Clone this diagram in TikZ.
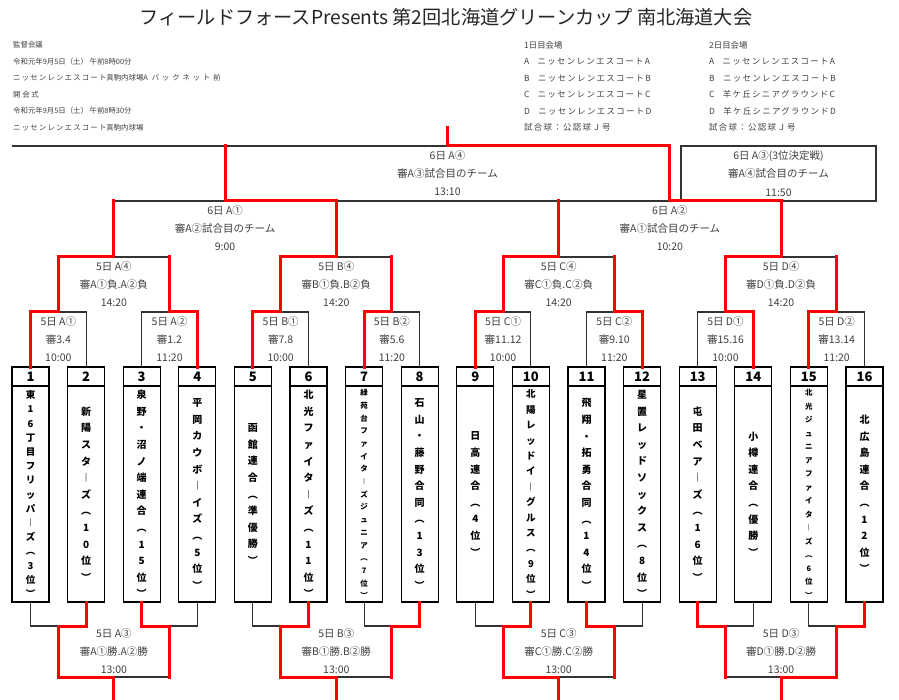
\documentclass[tikz,border=0pt]{standalone}
\usepackage{fontspec}
\setmainfont{Noto Sans CJK JP}
\newfontfamily\kanafont[LetterSpace=16]{Noto Sans CJK JP}
\newfontfamily\kanawidefont[LetterSpace=38]{Noto Sans CJK JP}
\newcommand{\kana}[1]{{\kanafont #1}}
\newcommand{\kanawide}[1]{{\kanawidefont #1}}
\usetikzlibrary{positioning}
\definecolor{winred}{HTML}{FF0000}
\definecolor{linegray}{HTML}{333333}
\definecolor{textgray}{HTML}{404040}

\begin{document}
\begin{tikzpicture}[x=1pt, y=-1pt,
    bline/.style={draw=linegray, line width=1.1pt},
    win/.style={draw=winred, line width=3pt, line cap=rect},
    teambox/.style={draw=black, line width=1.3pt, outer sep=0pt, inner sep=0pt, minimum width=37pt, minimum height=235pt},
    teamno/.style={draw=black, line width=1.3pt, outer sep=0pt, inner sep=0pt, anchor=north, minimum width=37pt, minimum height=19pt, font=\bfseries\fontsize{13}{13}\selectfont},
    teamname/.style={align=center, inner sep=0pt, font=\bfseries\fontsize{10}{16.6}\selectfont},
    lbl/.style={align=center, inner sep=0pt, text=textgray, font=\fontsize{10.5}{18.3}\selectfont},
    info/.style={align=left, anchor=north west, inner sep=0pt, text=textgray, font=\fontsize{7.4}{16.5}\selectfont}]
    \path[use as bounding box, fill=white] (0,0) rectangle (899,700);
    % title and notes
    \node[font=\fontsize{19.2}{20}\selectfont, text=black!85] (title) at (446,17) {フィールドフォースPresents 第2回北海道グリーンカップ 南北海道大会};
    \node[info] (meeting) at (13,41.5) {監督会議\\令和元年9月5日（土） 午前8時00分\\\kana{ニッセンレンエスコート}真駒内球場A\hspace{4pt}\kanawide{バックネット前}\\開 会 式\\令和元年9月5日（土） 午前8時30分\\\kana{ニッセンレンエスコート}真駒内球場};
    \node[info, font=\fontsize{8.4}{16.5}\selectfont] (day1) at (524,41) {1日目会場\\A　\kana{ニッセンレンエスコートA}\\B　\kana{ニッセンレンエスコートB}\\C　\kana{ニッセンレンエスコートC}\\D　\kana{ニッセンレンエスコートD}\\\kana{試合球：公認球Ｊ号}};
    \node[info, font=\fontsize{8.4}{16.5}\selectfont] (day2) at (709,41) {2日目会場\\A　\kana{ニッセンレンエスコートA}\\B　\kana{ニッセンレンエスコートB}\\C　\kana{羊ケ丘シニアグラウンドC}\\D　\kana{羊ケ丘シニアグラウンドD}\\\kana{試合球：公認球Ｊ号}};
    % teams
    \node[teambox] (t1) at (30.5,484.5) {};
    \node[teamno] (n1) at (t1.north) {1};
    \node[teamname, font=\bfseries\fontsize{9.5}{14.2}\selectfont] (m1) at (30.5,494) {東\\1\\6\\丁\\目\\フ\\リ\\ッ\\パ\\︱\\ズ\\︵\\3\\位\\︶};
    \node[teambox] (t2) at (86.1,484.5) {};
    \node[teamno] (n2) at (t2.north) {2};
    \node[teamname] (m2) at (86.1,494) {新\\陽\\ス\\タ\\︱\\ズ\\︵\\1\\0\\位\\︶};
    \node[teambox] (t3) at (141.7,484.5) {};
    \node[teamno] (n3) at (t3.north) {3};
    \node[teamname] (m3) at (141.7,494) {泉\\野\\・\\沼\\ノ\\端\\連\\合\\︵\\1\\5\\位\\︶};
    \node[teambox] (t4) at (197.3,484.5) {};
    \node[teamno] (n4) at (t4.north) {4};
    \node[teamname] (m4) at (197.3,494) {平\\岡\\カ\\ウ\\ボ\\︱\\イ\\ズ\\︵\\5\\位\\︶};
    \node[teambox] (t5) at (252.9,484.5) {};
    \node[teamno] (n5) at (t5.north) {5};
    \node[teamname] (m5) at (252.9,494) {函\\館\\連\\合\\︵\\準\\優\\勝\\︶};
    \node[teambox] (t6) at (308.5,484.5) {};
    \node[teamno] (n6) at (t6.north) {6};
    \node[teamname] (m6) at (308.5,494) {北\\光\\フ\\ァ\\イ\\タ\\︱\\ズ\\︵\\1\\1\\位\\︶};
    \node[teambox] (t7) at (364.1,484.5) {};
    \node[teamno] (n7) at (t7.north) {7};
    \node[teamname, font=\bfseries\fontsize{7.5}{12.7}\selectfont] (m7) at (364.1,494) {緑\\苑\\台\\フ\\ァ\\イ\\タ\\︱\\ズ\\ジ\\ュ\\ニ\\ア\\︵\\7\\位\\︶};
    \node[teambox] (t8) at (419.7,484.5) {};
    \node[teamno] (n8) at (t8.north) {8};
    \node[teamname] (m8) at (419.7,494) {石\\山\\・\\藤\\野\\合\\同\\︵\\1\\3\\位\\︶};
    \node[teambox] (t9) at (475.3,484.5) {};
    \node[teamno] (n9) at (t9.north) {9};
    \node[teamname] (m9) at (475.3,494) {日\\高\\連\\合\\︵\\4\\位\\︶};
    \node[teambox] (t10) at (530.9,484.5) {};
    \node[teamno] (n10) at (t10.north) {10};
    \node[teamname, font=\bfseries\fontsize{9.5}{15.4}\selectfont] (m10) at (530.9,494) {北\\陽\\レ\\ッ\\ド\\イ\\︱\\グ\\ル\\ス\\︵\\9\\位\\︶};
    \node[teambox] (t11) at (586.5,484.5) {};
    \node[teamno] (n11) at (t11.north) {11};
    \node[teamname] (m11) at (586.5,494) {飛\\翔\\・\\拓\\勇\\合\\同\\︵\\1\\4\\位\\︶};
    \node[teambox] (t12) at (642.1,484.5) {};
    \node[teamno] (n12) at (t12.north) {12};
    \node[teamname] (m12) at (642.1,494) {星\\置\\レ\\ッ\\ド\\ソ\\ッ\\ク\\ス\\︵\\8\\位\\︶};
    \node[teambox] (t13) at (697.7,484.5) {};
    \node[teamno] (n13) at (t13.north) {13};
    \node[teamname] (m13) at (697.7,494) {屯\\田\\ベ\\ア\\︱\\ズ\\︵\\1\\6\\位\\︶};
    \node[teambox] (t14) at (753.3,484.5) {};
    \node[teamno] (n14) at (t14.north) {14};
    \node[teamname] (m14) at (753.3,494) {小\\樽\\連\\合\\︵\\優\\勝\\︶};
    \node[teambox] (t15) at (808.9,484.5) {};
    \node[teamno] (n15) at (t15.north) {15};
    \node[teamname, font=\bfseries\fontsize{7.5}{13.5}\selectfont] (m15) at (808.9,494) {北\\光\\ジ\\ュ\\ニ\\ア\\フ\\ァ\\イ\\タ\\︱\\ズ\\︵\\6\\位\\︶};
    \node[teambox] (t16) at (864.5,484.5) {};
    \node[teamno] (n16) at (t16.north) {16};
    \node[teamname] (m16) at (864.5,494) {北\\広\\島\\連\\合\\︵\\1\\2\\位\\︶};
    % bracket points
    \coordinate (a1) at (58.3,312);  \coordinate (a2) at (169.5,312);
    \coordinate (a3) at (280.7,312); \coordinate (a4) at (391.9,312);
    \coordinate (a5) at (503.1,312); \coordinate (a6) at (614.3,312);
    \coordinate (a7) at (725.5,312); \coordinate (a8) at (836.7,312);
    \coordinate (b1) at (113.9,257); \coordinate (b2) at (336.3,257);
    \coordinate (b3) at (558.7,257); \coordinate (b4) at (781.1,257);
    \coordinate (c1) at (225.1,201); \coordinate (c2) at (669.9,201);
    \coordinate (f) at (447.5,146);  \coordinate (fl) at (12,146);
    \coordinate (champ) at (447.5,128);
    \coordinate (d1) at (58.3,626);  \coordinate (d2) at (169.5,626);
    \coordinate (d3) at (280.7,626); \coordinate (d4) at (391.9,626);
    \coordinate (d5) at (503.1,626); \coordinate (d6) at (614.3,626);
    \coordinate (d7) at (725.5,626); \coordinate (d8) at (836.7,626);
    \coordinate (e1) at (113.9,677); \coordinate (e2) at (336.3,677);
    \coordinate (e3) at (558.7,677); \coordinate (e4) at (781.1,677);
    \coordinate (o1) at (113.9,700); \coordinate (o2) at (336.3,700);
    \coordinate (o3) at (558.7,700); \coordinate (o4) at (781.1,700);
    % 5日 first games, top
    \draw[bline] (t1.north) |- (a1) -| (t2.north);
    \draw[bline] (t3.north) |- (a2) -| (t4.north);
    \draw[bline] (t5.north) |- (a3) -| (t6.north);
    \draw[bline] (t7.north) |- (a4) -| (t8.north);
    \draw[bline] (t9.north) |- (a5) -| (t10.north);
    \draw[bline] (t11.north) |- (a6) -| (t12.north);
    \draw[bline] (t13.north) |- (a7) -| (t14.north);
    \draw[bline] (t15.north) |- (a8) -| (t16.north);
    % 5日 first games, bottom
    \draw[bline] (t1.south) |- (d1) -| (t2.south);
    \draw[bline] (t3.south) |- (d2) -| (t4.south);
    \draw[bline] (t5.south) |- (d3) -| (t6.south);
    \draw[bline] (t7.south) |- (d4) -| (t8.south);
    \draw[bline] (t9.south) |- (d5) -| (t10.south);
    \draw[bline] (t11.south) |- (d6) -| (t12.south);
    \draw[bline] (t13.south) |- (d7) -| (t14.south);
    \draw[bline] (t15.south) |- (d8) -| (t16.south);
    % 5日 ④ and ③
    \draw[bline] (a1) |- (b1) -| (a2);
    \draw[bline] (a3) |- (b2) -| (a4);
    \draw[bline] (a5) |- (b3) -| (a6);
    \draw[bline] (a7) |- (b4) -| (a8);
    \draw[bline] (d1) |- (e1) -| (d2);
    \draw[bline] (d3) |- (e2) -| (d4);
    \draw[bline] (d5) |- (e3) -| (d6);
    \draw[bline] (d7) |- (e4) -| (d8);
    % 6日
    \draw[bline] (b1) |- (c1) -| (b2);
    \draw[bline] (b3) |- (c2) -| (b4);
    \draw[bline] (b2 |- c1) -- (b3 |- c2);
    \draw[bline] (fl) -- (f) -| (c2) (c1) -- (c1 |- f);
    \node[draw=linegray, line width=1.1pt, lbl, minimum width=195pt, minimum height=55pt] (third) at (778.5,173.5) {6日 A③(3位決定戦)\\審A④試合目のチーム\\11:50};
    % red lines
    \draw[win] (t1.north) |- (a1);  \draw[win] (t4.north) |- (a2);
    \draw[win] (t5.north) |- (a3);  \draw[win] (t7.north) |- (a4);
    \draw[win] (t9.north) |- (a5);  \draw[win] (t12.north) |- (a6);
    \draw[win] (t14.north) |- (a7); \draw[win] (t15.north) |- (a8);
    \draw[win] (t2.south) |- (d1);  \draw[win] (t3.south) |- (d2);
    \draw[win] (t6.south) |- (d3);  \draw[win] (t8.south) |- (d4);
    \draw[win] (t10.south) |- (d5); \draw[win] (t11.south) |- (d6);
    \draw[win] (t13.south) |- (d7); \draw[win] (t16.south) |- (d8);
    \draw[win] (a1) |- (b1);  \draw[win] (a2) -- (a2 |- b1);
    \draw[win] (a3) |- (b2);  \draw[win] (a4) -- (a4 |- b2);
    \draw[win] (a5) |- (b3);  \draw[win] (a6) -- (a6 |- b3);
    \draw[win] (a7) |- (b4);  \draw[win] (a8) -- (a8 |- b4);
    \draw[win] (d1) |- (e1);  \draw[win] (d2) -- (d2 |- e1);
    \draw[win] (d3) |- (e2);  \draw[win] (d4) -- (d4 |- e2);
    \draw[win] (d5) |- (e3);  \draw[win] (d6) -- (d6 |- e3);
    \draw[win] (d7) -- (d7 |- e4);  \draw[win] (d8) |- (e4);
    \draw[win] (e1) -- (o1);  \draw[win] (e2) -- (o2);
    \draw[win] (e3) -- (o3);  \draw[win] (e4) -- (o4);
    \draw[win] (b1) -- (b1 |- c1);  \draw[win] (b2) |- (c1);
    \draw[win] (b3) -- (b3 |- c2);  \draw[win] (b4) |- (c2);
    \draw[win] (c1) -- (c1 |- f);   \draw[win] (c2) |- (f) -- (champ);
    % game labels
    \node[lbl, below=4pt of a1] (la1) {5日 A①\\審3.4\\10:00};
    \node[lbl, below=4pt of a2] (la2) {5日 A②\\審1.2\\11:20};
    \node[lbl, below=4pt of a3] (la3) {5日 B①\\審7.8\\10:00};
    \node[lbl, below=4pt of a4] (la4) {5日 B②\\審5.6\\11:20};
    \node[lbl, below=4pt of a5] (la5) {5日 C①\\審11.12\\10:00};
    \node[lbl, below=4pt of a6] (la6) {5日 C②\\審9.10\\11:20};
    \node[lbl, below=4pt of a7] (la7) {5日 D①\\審15.16\\10:00};
    \node[lbl, below=4pt of a8] (la8) {5日 D②\\審13.14\\11:20};
    \node[lbl, below=4pt of b1] (lb1) {5日 A④\\審A①負.A②負\\14:20};
    \node[lbl, below=4pt of b2] (lb2) {5日 B④\\審B①負.B②負\\14:20};
    \node[lbl, below=4pt of b3] (lb3) {5日 C④\\審C①負.C②負\\14:20};
    \node[lbl, below=4pt of b4] (lb4) {5日 D④\\審D①負.D②負\\14:20};
    \node[lbl, below=4pt of c1] (lc1) {6日 A①\\審A②試合目のチーム\\9:00};
    \node[lbl, below=4pt of c2] (lc2) {6日 A②\\審A①試合目のチーム\\10:20};
    \node[lbl, below=4pt of f] (lf) {6日 A④\\審A③試合目のチーム\\13:10};
    \node[lbl, above=3pt of e1] (le1) {5日 A③\\審A①勝.A②勝\\13:00};
    \node[lbl, above=3pt of e2] (le2) {5日 B③\\審B①勝.B②勝\\13:00};
    \node[lbl, above=3pt of e3] (le3) {5日 C③\\審C①勝.C②勝\\13:00};
    \node[lbl, above=3pt of e4] (le4) {5日 D③\\審D①勝.D②勝\\13:00};
  \end{tikzpicture}
\end{document}
